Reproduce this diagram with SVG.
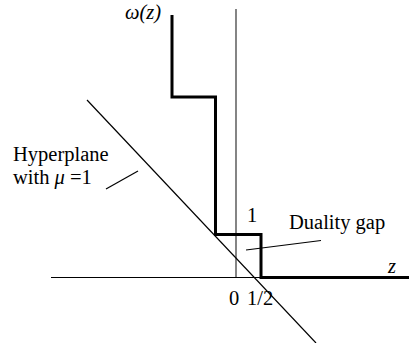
<svg xmlns="http://www.w3.org/2000/svg" width="409" height="343" viewBox="0 0 409 343">
<style>
.t{font-family:"Liberation Serif","Times New Roman",serif;font-size:20.5px;fill:#000}
.i{font-style:italic}
.thin{stroke:#000;stroke-width:1.2;fill:none}
.axis{stroke:#333;stroke-width:1.2;fill:none}
.thick{stroke:#000;stroke-width:3;fill:none;stroke-linejoin:miter}
</style>
<rect width="409" height="343" fill="#fff"/>
<g id="axes">
<line class="axis" x1="236" y1="9" x2="236" y2="277.5"/>
<line class="thin" x1="51" y1="277.5" x2="409" y2="277.5"/>
</g>
<g id="step">
<polyline class="thick" points="172,15 172,97 215.5,97 215.5,234.5 261,234.5 261,277.5 409,277.5"/>
</g>
<g id="hyperplane">
<line class="thin" x1="87" y1="100" x2="316" y2="343"/>
</g>
<g id="connectors">
<line class="thin" x1="106" y1="189" x2="138" y2="171"/>
<line class="thin" x1="246" y1="250" x2="321" y2="240.5"/>
</g>
<g id="labels">
<text class="t i" x="125" y="19">ω(z)</text>
<text class="t" x="13" y="160.5">Hyperplane</text>
<text class="t" x="13" y="183.5">with <tspan class="i">μ</tspan> =1</text>
<text class="t" x="247" y="221.5">1</text>
<text class="t" x="289" y="228.5">Duality gap</text>
<text class="t i" x="388" y="272.5">z</text>
<text class="t" x="229" y="305">0</text>
<text class="t" x="247" y="305">1/2</text>
</g>
</svg>
